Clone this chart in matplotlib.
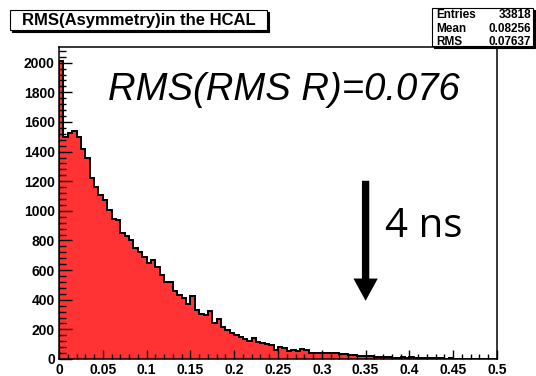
import numpy as np
import matplotlib.pyplot as plt
from matplotlib.patches import Rectangle
from matplotlib.ticker import MultipleLocator, FuncFormatter

# histogram contents, 100 bins from 0 to 0.5
n_bins = 100
x_lo, x_hi = 0.0, 0.5
counts = [2010, 1500, 1525, 1540, 1500, 1420, 1358, 1221, 1162, 1105,
          1070, 1009, 942, 940, 849, 833, 806, 748, 725, 691,
          651, 669, 624, 570, 522, 518, 461, 432, 410, 370,
          423, 331, 305, 295, 327, 245, 268, 219, 196, 173,
          162, 146, 135, 124, 140, 117, 110, 99, 95, 61,
          83, 72, 54, 61, 55, 65, 62, 40, 38, 38,
          43, 42, 38, 38, 36, 35, 30, 28, 22, 20,
          20, 17, 16, 15, 15, 14, 9, 10, 13, 8,
          12, 6, 5, 6, 10, 4, 5, 4, 3, 4,
          3, 2, 3, 2, 2, 1, 2, 1, 1, 1]

title = "RMS(Asymmetry)in the HCAL"
stat_names = ["Entries", "Mean", "RMS"]
stat_values = ["33818", "0.08256", "0.07637"]
rms_text = "RMS(RMS R)=0.076"
arrow_text = "4 ns"
arrow_x = 0.35
arrow_from, arrow_to = 1203, 393

plt.rcParams['font.family'] = ['Liberation Sans', 'DejaVu Sans']
plt.rcParams['font.weight'] = 'bold'

W, H = 536, 376
def fx(x):
    return x / W
def fy(y):
    return 1 - y / H

fig = plt.figure(figsize=(W / 100, H / 100), dpi=100)
ax = fig.add_axes([fx(59), fy(359), (497 - 59) / W, (359 - 47) / H])

edges = np.linspace(x_lo, x_hi, n_bins + 1)
ax.stairs(counts, edges, fill=True, color='#ff3333', lw=0)
ax.stairs(counts, edges, color='black', lw=1.4)

ax.set_xlim(x_lo, x_hi)
ax.set_ylim(0, 2106)

ax.xaxis.set_major_locator(MultipleLocator(0.05))
ax.xaxis.set_minor_locator(MultipleLocator(0.01))
ax.yaxis.set_major_locator(MultipleLocator(200))
ax.yaxis.set_minor_locator(MultipleLocator(40))
ax.xaxis.set_major_formatter(FuncFormatter(lambda v, p: f"{v:g}"))
ax.tick_params(which='both', direction='in', top=False, right=False,
               width=1, labelsize=10)
ax.tick_params(axis='x', which='major', length=6.8, pad=3)
ax.tick_params(axis='x', which='minor', length=3.4)
ax.tick_params(axis='y', which='major', length=9.4, pad=3)
ax.tick_params(axis='y', which='minor', length=4.7)
for s in ax.spines.values():
    s.set_linewidth(1.1)

# arrow and annotations
ax.annotate('', xy=(arrow_x, arrow_to), xytext=(arrow_x, arrow_from),
            arrowprops=dict(arrowstyle='simple,head_length=16,head_width=17.5,tail_width=5.3',
                            mutation_scale=1, fc='black', ec='none',
                            shrinkA=0, shrinkB=0))
fig.text(fx(108), fy(100), rms_text, ha='left', va='baseline',
         fontsize=27.5, style='italic', weight='normal')
fig.text(fx(385), fy(237), arrow_text, ha='left', va='baseline',
         fontsize=29, weight='normal', family=['Open Sans', 'DejaVu Sans'])

# title box with shadow
def shadow_box(l, t, r, b, off=2):
    fig.add_artist(Rectangle((fx(l + off), fy(b + off)), (r - l) / W, (b - t) / H,
                             transform=fig.transFigure, facecolor='black',
                             edgecolor='black', lw=0.8))
    fig.add_artist(Rectangle((fx(l), fy(b)), (r - l) / W, (b - t) / H,
                             transform=fig.transFigure, facecolor='white',
                             edgecolor='black', lw=0.8))

shadow_box(10, 10, 267, 30)
fig.text(fx(138.5), fy(20.5), title, ha='center', va='center', fontsize=12)

shadow_box(432, 8, 533, 46)
for i, (nm, val) in enumerate(zip(stat_names, stat_values)):
    yy = 15 + i * 13.5
    fig.text(fx(436), fy(yy), nm, ha='left', va='center', fontsize=8.5)
    fig.text(fx(531), fy(yy), val, ha='right', va='center', fontsize=8.5)

fig.savefig('out.png', dpi=100)
